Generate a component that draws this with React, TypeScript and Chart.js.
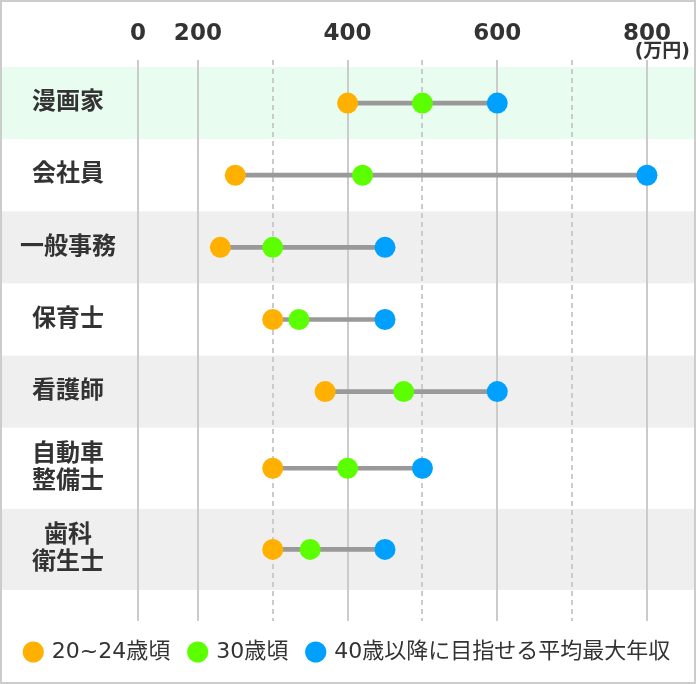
import React, { useEffect, useRef } from 'react';
import { Chart, registerables } from 'chart.js';

Chart.register(...registerables);

// ---- data ----
const CATEGORIES: string[][] = [
  ['漫画家'],
  ['会社員'],
  ['一般事務'],
  ['保育士'],
  ['看護師'],
  ['自動車', '整備士'],
  ['歯科', '衛生士'],
];
const AGE_20_24: number[] = [400, 250, 230, 300, 370, 300, 300];
const AGE_30: number[] = [500, 420, 300, 335, 475, 400, 350];
const AGE_40_MAX: number[] = [600, 800, 450, 450, 600, 500, 450];
const SERIES_LABELS: string[] = ['20~24歳頃', '30歳頃', '40歳以降に目指せる平均最大年収'];
const X_TICK_VALUES: number[] = [200, 300, 400, 500, 600, 700, 800];
const X_TICK_LABELS: string[] = ['200', '', '400', '', '600', '', '800'];
const X_ZERO_LABEL = '0';
const UNIT_LABEL = '(万円)';

// ---- layout / style constants ----
const FONT = "'DejaVu Sans', 'Noto Sans CJK JP', sans-serif";
const TEXT = '#333333';
const COLORS = ['#FFB000', '#5CFF00', '#00A0FF'];
const CONNECTOR = '#999999';
const GRID = '#cbcbcb';
const BAND_FILLS: (string | null)[] = ['#E8FCEF', null, '#EFEFEF', null, '#EFEFEF', null, '#EFEFEF'];
const X_BREAK = 120; // where the broken axis shows "0"
const X_MAX = 865.5;

const ROW_WEIGHTS = CATEGORIES.map((lines) => (lines.length > 1 ? 1.125 : 1));
const ROW_STARTS: number[] = [];
ROW_WEIGHTS.reduce((acc, w) => {
  ROW_STARTS.push(acc);
  return acc + w;
}, 0);
const ROW_TOTAL = ROW_WEIGHTS.reduce((a, b) => a + b, 0);
const ROW_CENTERS = ROW_STARTS.map((s, i) => s + ROW_WEIGHTS[i] / 2);
const Y_MIN = -0.097;
const Y_MAX = ROW_TOTAL + 0.43;

const bandsPlugin = {
  id: 'rowBands',
  beforeDraw(chart: any) {
    const { ctx, width, height } = chart;
    const y = chart.scales.y;
    ctx.save();
    ctx.fillStyle = '#ffffff';
    ctx.fillRect(0, 0, width, height);
    ROW_STARTS.forEach((s, i) => {
      const fill = BAND_FILLS[i];
      if (!fill) return;
      const top = y.getPixelForValue(s);
      const bottom = y.getPixelForValue(s + ROW_WEIGHTS[i]);
      ctx.fillStyle = fill;
      ctx.fillRect(2, top, width - 4, bottom - top);
    });
    ctx.restore();
  },
  afterDraw(chart: any) {
    const { ctx, width, height, chartArea } = chart;
    ctx.save();
    ctx.fillStyle = TEXT;
    ctx.font = `bold 19px ${FONT}`;
    ctx.textAlign = 'right';
    ctx.textBaseline = 'middle';
    ctx.fillText(UNIT_LABEL, chartArea.right - 6, 52);
    ctx.strokeStyle = '#cccccc';
    ctx.lineWidth = 2;
    ctx.strokeRect(1, 1, width - 2, height - 2);
    ctx.restore();
  },
};

export default function App() {
  const ref = useRef<HTMLCanvasElement>(null);

  useEffect(() => {
    const canvas = ref.current;
    if (!canvas) return;

    const series = [AGE_20_24, AGE_30, AGE_40_MAX];
    const pointSets: any[] = series.map((values, si) => ({
      type: 'scatter',
      label: SERIES_LABELS[si],
      data: values.map((v, i) => ({ x: v, y: ROW_CENTERS[i] })),
      backgroundColor: COLORS[si],
      borderColor: COLORS[si],
      pointBackgroundColor: COLORS[si],
      pointBorderWidth: 0,
      borderWidth: 0,
      pointRadius: 10.5,
      pointHoverRadius: 10.5,
      pointStyle: 'circle',
      order: si + 1,
    }));

    const connector: any = {
      type: 'bar',
      label: '',
      indexAxis: 'y',
      data: AGE_20_24.map((v, i) => ({
        x: [Math.min(v, AGE_30[i], AGE_40_MAX[i]), Math.max(v, AGE_30[i], AGE_40_MAX[i])],
        y: ROW_CENTERS[i],
      })),
      backgroundColor: CONNECTOR,
      borderWidth: 0,
      borderSkipped: false,
      barThickness: 4,
      order: 10,
    };

    const chart = new Chart(canvas, {
      type: 'scatter',
      data: { datasets: [...pointSets, connector] },
      options: {
        animation: false,
        responsive: false,
        maintainAspectRatio: false,
        devicePixelRatio: 1,
        events: [],
        layout: { autoPadding: false, padding: { top: 0, left: 0, right: 0, bottom: 11 } },
        plugins: {
          tooltip: { enabled: false },
          legend: {
            position: 'bottom',
            align: 'center',
            labels: {
              usePointStyle: true,
              pointStyle: 'circle',
              boxWidth: 15,
              boxHeight: 15,
              padding: 20,
              color: TEXT,
              font: { family: FONT, size: 22 },
              filter: (item: any) => item.datasetIndex < 3,
            },
          },
        },
        scales: {
          x: {
            type: 'linear',
            position: 'top',
            min: X_BREAK,
            max: X_MAX,
            bounds: 'data',
            beginAtZero: false,
            offset: false,
            afterFit: (s: any) => {
              s.height = 60;
              s.paddingLeft = 0;
              s.paddingRight = 0;
            },
            afterBuildTicks: (s: any) => {
              s.ticks = [X_BREAK, ...X_TICK_VALUES].map((v) => ({ value: v }));
            },
            ticks: {
              autoSkip: false,
              maxRotation: 0,
              padding: 12,
              color: TEXT,
              font: { family: FONT, size: 23, weight: 'bold' },
              callback: (_v: any, i: number) => (i === 0 ? X_ZERO_LABEL : X_TICK_LABELS[i - 1]),
            },
            grid: {
              color: GRID,
              lineWidth: 2,
              drawTicks: false,
              offset: false,
            },
            border: {
              display: false,
              dash: (ctx: any) =>
                ctx.index > 0 && X_TICK_LABELS[ctx.index - 1] === '' ? [5, 4] : [],
            },
          },
          y: {
            type: 'linear',
            position: 'left',
            reverse: true,
            min: Y_MIN,
            max: Y_MAX,
            bounds: 'data',
            beginAtZero: false,
            offset: false,
            afterFit: (s: any) => {
              s.width = 138;
              s.paddingTop = 0;
              s.paddingBottom = 0;
            },
            afterBuildTicks: (s: any) => {
              s.ticks = ROW_CENTERS.map((v) => ({ value: v }));
            },
            ticks: {
              autoSkip: false,
              crossAlign: 'center',
              padding: 14,
              color: TEXT,
              font: { family: FONT, size: 24, weight: 'bold', lineHeight: 1.15 },
              callback: (_v: any, i: number) => CATEGORIES[i],
            },
            grid: { display: false, offset: false },
            border: { display: false },
          },
        },
      } as any,
      plugins: [bandsPlugin],
    });

    return () => chart.destroy();
  }, []);

  return (
    <div style={{ position: 'absolute', left: 0, top: 0, width: 696, height: 684 }}>
      <canvas ref={ref} width={696} height={684} style={{ display: 'block', width: 696, height: 684 }} />
    </div>
  );
}
